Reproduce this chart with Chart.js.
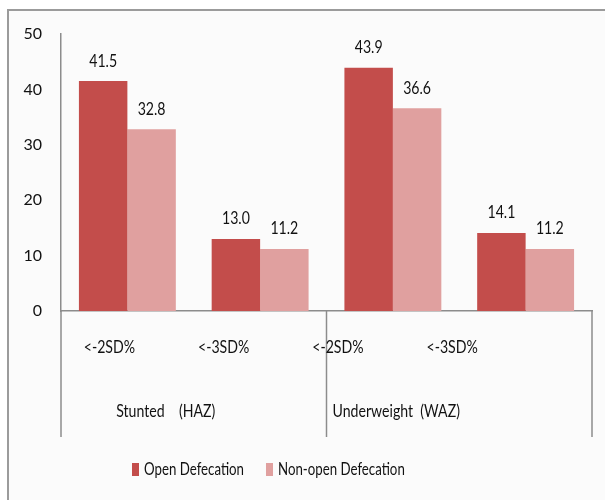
<!DOCTYPE html>
<html>
<head>
<meta charset="utf-8">
<script src="https://cdn.jsdelivr.net/npm/chart.js@4"></script>
<style>
  html, body { margin: 0; padding: 0; background: #ffffff; }
  #wrap { width: 605px; height: 500px; position: relative; }
</style>
</head>
<body>
<div id="wrap"><canvas id="sdChart"></canvas></div>
<script>
// data
var categories = ["<-2SD%", "<-3SD%", "<-2SD%", "<-3SD%"];
var groups = ["Stunted    (HAZ)", "Underweight  (WAZ)"];
var openDef = [41.5, 13.0, 43.9, 14.1];
var nonOpenDef = [32.8, 11.2, 36.6, 11.2];
var seriesNames = ["Open Defecation", "Non-open Defecation"];
var yTicks = [0, 10, 20, 30, 40, 50];

var darkRed = "#C34D4B";
var lightRed = "#E0A09F";
var axisGray = "#8c8c8c";
var font = "Lato, sans-serif";
var squeeze = 0.83; // the original uses a narrower font

// frame + background behind everything
var framePlugin = {
  id: "frame",
  beforeDraw: function (chart) {
    var c = chart.ctx;
    c.save();
    c.fillStyle = "#fbfbfb";
    c.fillRect(8, 10, chart.width, chart.height);
    c.strokeStyle = "#9b9b9b";
    c.lineWidth = 2;
    c.strokeRect(8, 10, chart.width + 10, chart.height + 10);
    c.restore();
  }
};

function narrowText(c, txt, x, y, sx) {
  c.save();
  c.translate(x, y);
  c.scale(sx || squeeze, 1);
  c.fillText(txt, 0, 0);
  c.restore();
}

// value labels, multi-level category axis and legend
var labelPlugin = {
  id: "labels",
  afterDatasetsDraw: function (chart) {
    var c = chart.ctx;
    var xs = chart.scales.x;
    var area = chart.chartArea;
    c.save();
    c.font = "17px " + font;
    c.fillStyle = "#111";
    c.textAlign = "center";
    c.textBaseline = "middle";
    chart.data.datasets.forEach(function (ds, di) {
      chart.getDatasetMeta(di).data.forEach(function (bar, i) {
        narrowText(c, ds.data[i].toFixed(1), bar.x, bar.y - 20);
      });
    });

    // category separators
    var bottom = area.bottom + 126;
    c.strokeStyle = axisGray;
    c.lineWidth = 1.5;
    var edges = [area.left, (area.left + area.right) / 2, area.right];
    edges.forEach(function (x) {
      c.beginPath();
      c.moveTo(x, area.bottom);
      c.lineTo(x, bottom);
      c.stroke();
    });

    // first level labels
    categories.forEach(function (lab, i) {
      var x = xs.getPixelForValue(i) - 18 - 18.5 * i;
      narrowText(c, lab, x, area.bottom + 37);
    });
    // second level labels
    groups.forEach(function (lab, g) {
      var mid = (xs.getPixelForValue(2 * g) + xs.getPixelForValue(2 * g + 1)) / 2;
      narrowText(c, lab, mid - 28 - 35 * g, area.bottom + 101);
    });

    // legend
    var ly = area.bottom + 159;
    var lx = 132;
    var legSqueeze = 0.78;
    var colors = [darkRed, lightRed];
    c.textAlign = "left";
    seriesNames.forEach(function (name, k) {
      c.fillStyle = colors[k];
      c.fillRect(lx, ly - 7, 7, 13);
      c.fillStyle = "#111";
      narrowText(c, name, lx + 12, ly, legSqueeze);
      lx += 12 + c.measureText(name).width * legSqueeze + 22;
    });
    c.restore();
  }
};

new Chart("sdChart", {
  type: "bar",
  data: {
    labels: categories,
    datasets: [
      { label: seriesNames[0], data: openDef, backgroundColor: darkRed },
      { label: seriesNames[1], data: nonOpenDef, backgroundColor: lightRed }
    ]
  },
  options: {
    responsive: true,
    maintainAspectRatio: false,
    animation: false,
    layout: { padding: { left: 8, top: 34, right: 13, bottom: 63 } },
    categoryPercentage: 0.73,
    barPercentage: 1.0,
    plugins: {
      legend: { display: false },
      tooltip: { enabled: false }
    },
    scales: {
      x: {
        grid: { display: false },
        border: { display: true, color: axisGray, width: 1.5 },
        ticks: { display: false },
        afterFit: function (scale) { scale.height = 126; }
      },
      y: {
        min: 0,
        max: 50,
        afterBuildTicks: function (scale) {
          scale.ticks = yTicks.map(function (v) { return { value: v }; });
        },
        grid: { display: false },
        border: { display: true, color: axisGray, width: 1.5 },
        ticks: {
          color: "#111",
          font: { family: font, size: 16 },
          padding: 11
        },
        afterFit: function (scale) { scale.width = 53; }
      }
    }
  },
  plugins: [framePlugin, labelPlugin]
});
</script>
</body>
</html>
